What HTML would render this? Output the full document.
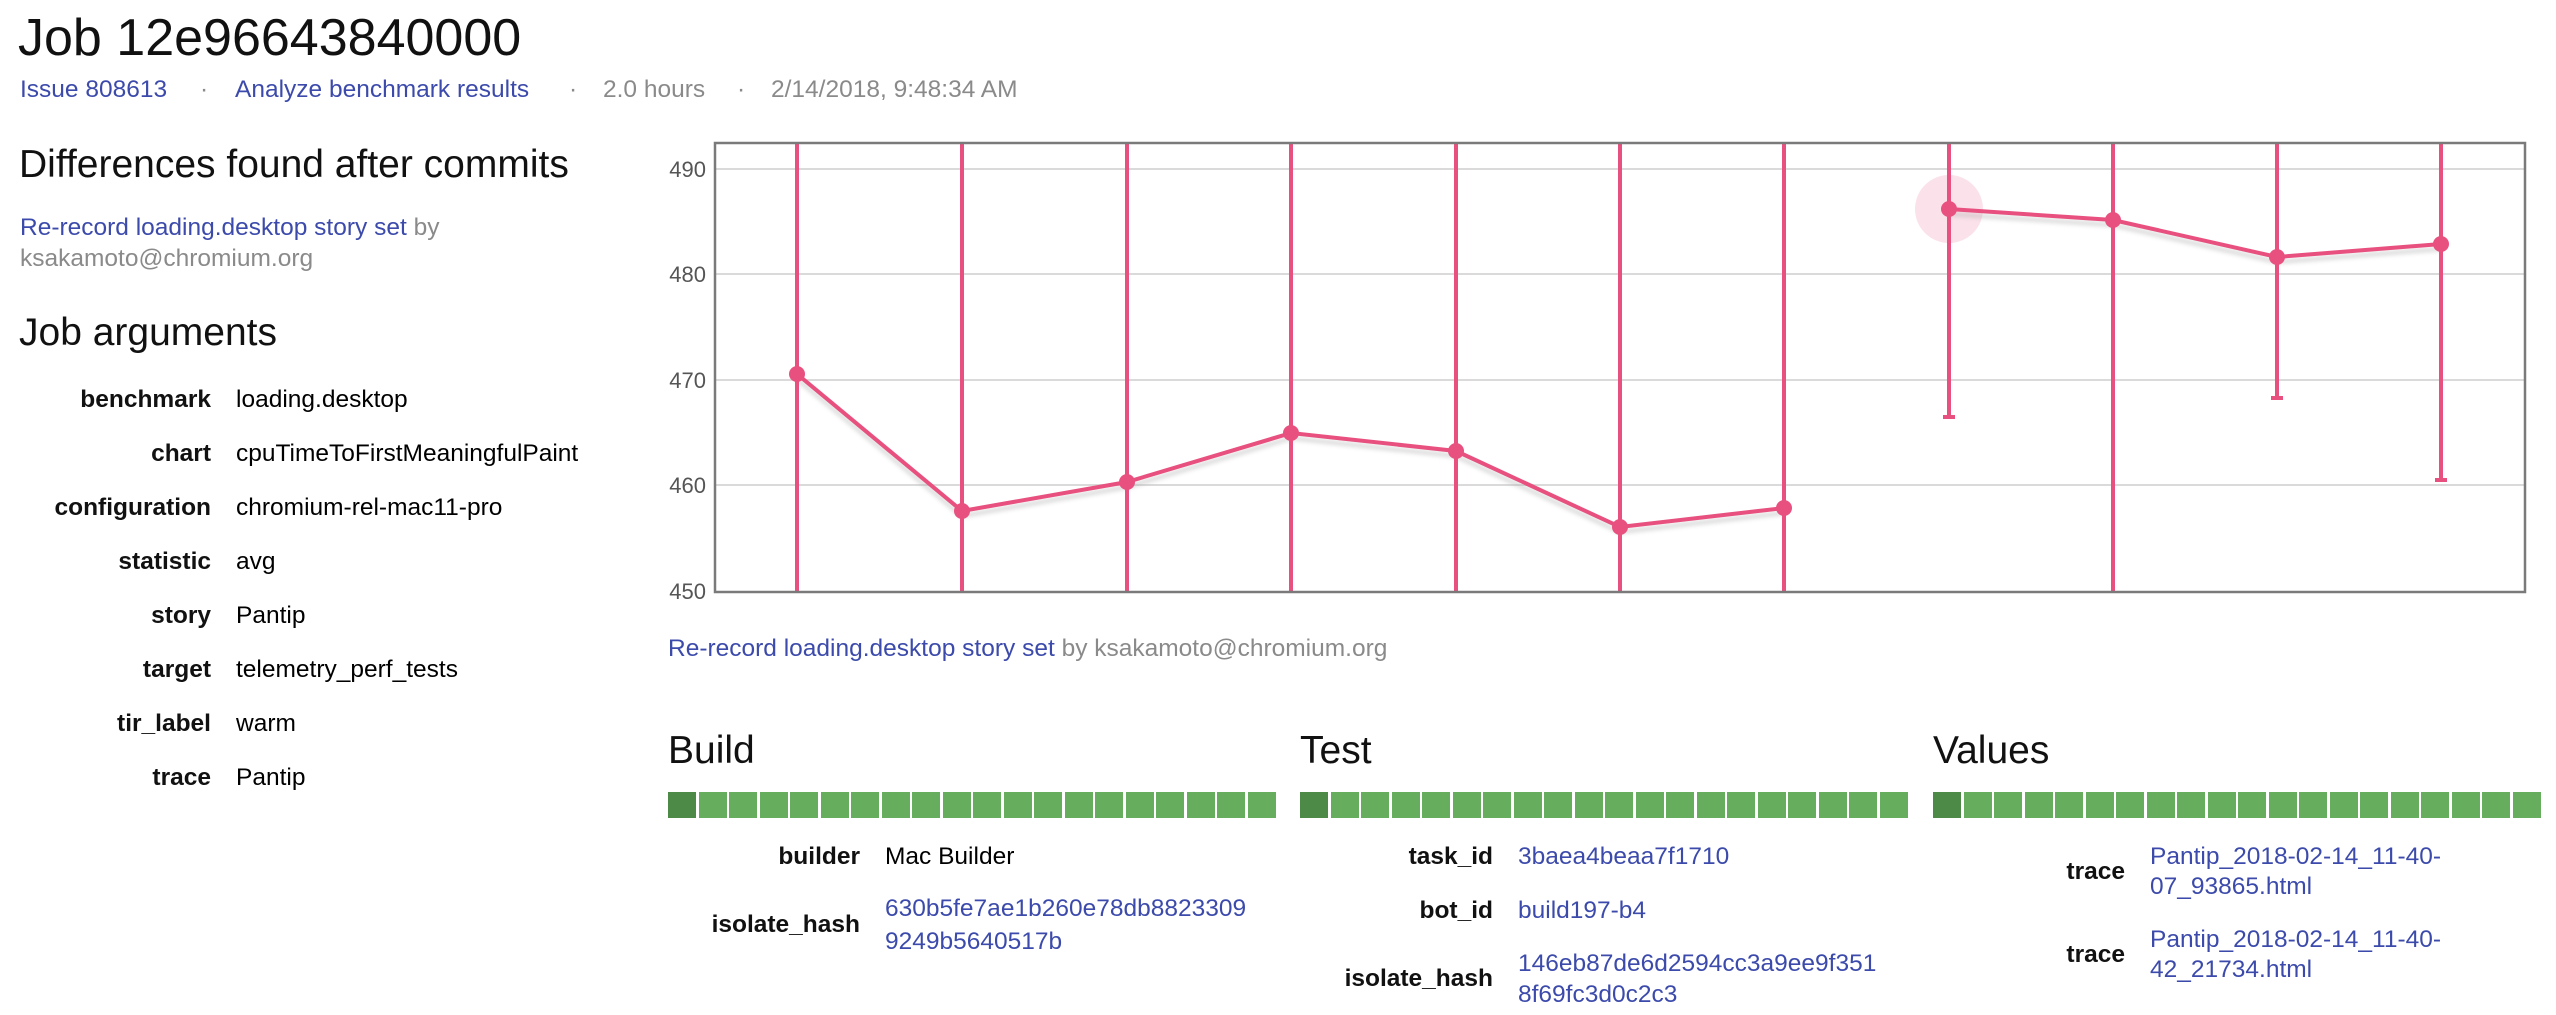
<!DOCTYPE html>
<html><head><meta charset="utf-8"><style>
body{margin:0;width:2556px;height:1008px;background:#fff;position:relative;overflow:hidden;font-family:"Liberation Sans",Arial,sans-serif;}
.t{position:absolute;white-space:nowrap;height:40px;line-height:40px;}
.b{color:#3c4bab}
.g{color:#8a8a8a}
.k{font-weight:bold;color:#111;text-align:right}
.f{font-size:24.5px}
.h{font-size:39px;color:#111}
.bar{position:absolute;top:792px;height:26px;width:610px}
.bar div{position:absolute;top:0;height:26px;width:28px;background:#66ad5e}
</style></head><body>
<div class="t" style="left:18px;top:18px;height:40px;line-height:40px;font-size:52px;color:#111">Job 12e96643840000</div>
<div class="t f b" style="left:20px;top:70px">Issue 808613</div>
<div class="t f g" style="left:200px;top:70px">·</div>
<div class="t f b" style="left:235px;top:70px">Analyze benchmark results</div>
<div class="t f g" style="left:569px;top:70px">·</div>
<div class="t f g" style="left:603px;top:70px">2.0 hours</div>
<div class="t f g" style="left:737px;top:70px">·</div>
<div class="t f g" style="left:771px;top:70px">2/14/2018, 9:48:34 AM</div>

<div class="t h" style="left:19px;top:145px">Differences found after commits</div>
<div class="t f" style="left:20px;top:208px"><span class="b">Re-record loading.desktop story set</span> <span class="g">by</span></div>
<div class="t f g" style="left:20px;top:239px">ksakamoto@chromium.org</div>
<div class="t h" style="left:19px;top:313px">Job arguments</div>

<div class="t f k" style="left:0;width:211px;top:380px">benchmark</div><div class="t f" style="left:236px;top:380px">loading.desktop</div>
<div class="t f k" style="left:0;width:211px;top:434px">chart</div><div class="t f" style="left:236px;top:434px">cpuTimeToFirstMeaningfulPaint</div>
<div class="t f k" style="left:0;width:211px;top:488px">configuration</div><div class="t f" style="left:236px;top:488px">chromium-rel-mac11-pro</div>
<div class="t f k" style="left:0;width:211px;top:542px">statistic</div><div class="t f" style="left:236px;top:542px">avg</div>
<div class="t f k" style="left:0;width:211px;top:596px">story</div><div class="t f" style="left:236px;top:596px">Pantip</div>
<div class="t f k" style="left:0;width:211px;top:650px">target</div><div class="t f" style="left:236px;top:650px">telemetry_perf_tests</div>
<div class="t f k" style="left:0;width:211px;top:704px">tir_label</div><div class="t f" style="left:236px;top:704px">warm</div>
<div class="t f k" style="left:0;width:211px;top:758px">trace</div><div class="t f" style="left:236px;top:758px">Pantip</div>

<svg style="position:absolute;left:0;top:0" width="2556" height="640">
<defs><clipPath id="c"><rect x="715" y="143" width="1810" height="449"/></clipPath>
<filter id="bl"><feGaussianBlur stdDeviation="2"/></filter></defs>
<g stroke="#dadada" stroke-width="2">
<line x1="715" x2="2525" y1="169" y2="169"/><line x1="715" x2="2525" y1="274" y2="274"/>
<line x1="715" x2="2525" y1="380" y2="380"/><line x1="715" x2="2525" y1="485" y2="485"/>
</g>
<g font-size="22" fill="#555" text-anchor="end" font-family="Liberation Sans, sans-serif">
<text x="706" y="177">490</text><text x="706" y="282">480</text><text x="706" y="388">470</text><text x="706" y="493">460</text><text x="706" y="599">450</text>
</g>
<circle cx="1949" cy="209" r="34" fill="#fbe1e9"/>
<g clip-path="url(#c)">
<g stroke="#aaa" stroke-width="4" fill="none" opacity="0.45" filter="url(#bl)" transform="translate(0,5)">
<polyline points="797,374 962,511 1127,482 1291,433 1456,451 1620,527 1784,508"/>
<polyline points="1949,209 2113,220 2277,257 2441,244"/>
</g>
<g stroke="#e8507f" stroke-width="4">
<line x1="797" x2="797" y1="140" y2="592"/><line x1="962" x2="962" y1="140" y2="592"/>
<line x1="1127" x2="1127" y1="140" y2="592"/><line x1="1291" x2="1291" y1="140" y2="592"/>
<line x1="1456" x2="1456" y1="140" y2="592"/><line x1="1620" x2="1620" y1="140" y2="592"/>
<line x1="1784" x2="1784" y1="140" y2="592"/><line x1="1949" x2="1949" y1="140" y2="417"/>
<line x1="2113" x2="2113" y1="140" y2="592"/><line x1="2277" x2="2277" y1="140" y2="398"/>
<line x1="2441" x2="2441" y1="140" y2="480"/>
<line x1="1943" x2="1955" y1="417" y2="417"/><line x1="2271" x2="2283" y1="398" y2="398"/><line x1="2435" x2="2447" y1="480" y2="480"/>
</g>
<g stroke="#e8507f" stroke-width="4" fill="none">
<polyline points="797,374 962,511 1127,482 1291,433 1456,451 1620,527 1784,508"/>
<polyline points="1949,209 2113,220 2277,257 2441,244"/>
</g>
<g fill="#e8507f">
<circle cx="797" cy="374" r="8"/><circle cx="962" cy="511" r="8"/><circle cx="1127" cy="482" r="8"/><circle cx="1291" cy="433" r="8"/>
<circle cx="1456" cy="451" r="8"/><circle cx="1620" cy="527" r="8"/><circle cx="1784" cy="508" r="8"/>
<circle cx="1949" cy="209" r="8"/><circle cx="2113" cy="220" r="8"/><circle cx="2277" cy="257" r="8"/><circle cx="2441" cy="244" r="8"/>
</g>
</g>
<rect x="715" y="143" width="1810" height="449" fill="none" stroke="#7a7a7a" stroke-width="2.5"/>
</svg>

<div class="t f" style="left:668px;top:629px"><span class="b">Re-record loading.desktop story set</span> <span class="g">by ksakamoto@chromium.org</span></div>

<div class="t h" style="left:668px;top:731px">Build</div>
<div class="t h" style="left:1300px;top:731px">Test</div>
<div class="t h" style="left:1933px;top:731px">Values</div>

<div class="bar" style="left:668px" id="b1"></div>
<div class="bar" style="left:1300px" id="b2"></div>
<div class="bar" style="left:1933px" id="b3"></div>
<script>
['b1','b2','b3'].forEach(function(id){var e=document.getElementById(id);for(var i=0;i<20;i++){var d=document.createElement('div');d.style.left=(i*30.5)+'px';if(i==0)d.style.background='#4e8a47';e.appendChild(d);}});
</script>

<div class="t f k" style="left:600px;width:260px;top:837px">builder</div><div class="t f" style="left:885px;top:837px">Mac Builder</div>
<div class="t f k" style="left:600px;width:260px;top:905px">isolate_hash</div>
<div class="t f b" style="left:885px;top:889px">630b5fe7ae1b260e78db8823309</div>
<div class="t f b" style="left:885px;top:922px">9249b5640517b</div>

<div class="t f k" style="left:1233px;width:260px;top:837px">task_id</div><div class="t f b" style="left:1518px;top:837px">3baea4beaa7f1710</div>
<div class="t f k" style="left:1233px;width:260px;top:891px">bot_id</div><div class="t f b" style="left:1518px;top:891px">build197-b4</div>
<div class="t f k" style="left:1233px;width:260px;top:959px">isolate_hash</div>
<div class="t f b" style="left:1518px;top:944px">146eb87de6d2594cc3a9ee9f351</div>
<div class="t f b" style="left:1518px;top:975px">8f69fc3d0c2c3</div>

<div class="t f k" style="left:1925px;width:200px;top:852px">trace</div>
<div class="t f b" style="left:2150px;top:837px">Pantip_2018-02-14_11-40-</div>
<div class="t f b" style="left:2150px;top:867px">07_93865.html</div>
<div class="t f k" style="left:1925px;width:200px;top:935px">trace</div>
<div class="t f b" style="left:2150px;top:920px">Pantip_2018-02-14_11-40-</div>
<div class="t f b" style="left:2150px;top:950px">42_21734.html</div>
</body></html>
